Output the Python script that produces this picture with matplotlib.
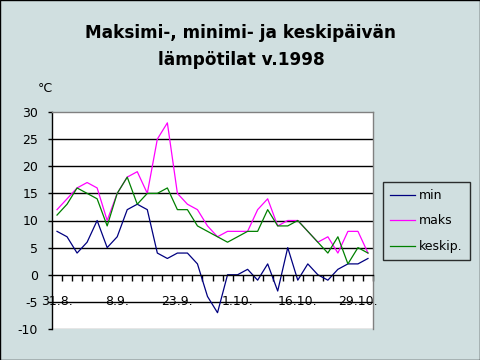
import matplotlib
matplotlib.use("Agg")
import matplotlib.pyplot as plt
from matplotlib.patches import Rectangle
import numpy as np

# Lämpötilat (°C), 32 havaintoa 31.8. - 29.10.1998
min_temp = [8, 7, 4, 6, 10, 5, 7, 12, 13, 12, 4, 3, 4, 4, 2, -4,
            -7, 0, 0, 1, -1, 2, -3, 5, -1, 2, 0, -1, 1, 2, 2, 3]
maks_temp = [12, 14, 16, 17, 16, 10, 15, 18, 19, 15, 25, 28, 15, 13, 12, 9,
             7, 8, 8, 8, 12, 14, 9, 10, 10, 8, 6, 7, 4, 8, 8, 4]
keskip_temp = [11, 13, 16, 15, 14, 9, 15, 18, 13, 15, 15, 16, 12, 12, 9, 8,
               7, 6, 7, 8, 8, 12, 9, 9, 10, 8, 6, 4, 7, 2, 5, 4]

# päivämääräotsikot (joka kuudes luokka)
label_pos = [0, 6, 12, 18, 24, 30]
label_txt = ["31.8.", "8.9.", "23.9.", "1.10.", "16.10.", "29.10."]
y_ticks = [-10, -5, 0, 5, 10, 15, 20, 25, 30]

bg = "#d0dfe0"
font = "DejaVu Sans"

fig = plt.figure(figsize=(4.8, 3.6), dpi=100, facecolor=bg)
ax = fig.add_axes([52 / 480, 1 - 329 / 360, 321 / 480, 217 / 360])
ax.set_facecolor("white")

x = np.arange(len(min_temp))
ax.plot(x, min_temp, color="#000080", lw=0.9, label="min")
ax.plot(x, maks_temp, color="#ff00ff", lw=0.9, label="maks")
ax.plot(x, keskip_temp, color="#008000", lw=0.9, label="keskip.")

ax.set_xlim(-0.5, len(min_temp) - 0.5)
ax.set_ylim(-10, 30)

# vaakaviivat
for v in [-5, 5, 10, 15, 20, 25]:
    ax.axhline(v, color="black", lw=1, zorder=0)
ax.axhline(-10, color="#808080", lw=1, zorder=0)

# reunat
ax.spines["left"].set_color("black")
ax.spines["top"].set_color("#808080")
ax.spines["right"].set_color("#808080")
ax.spines["bottom"].set_position(("data", 0))
ax.spines["bottom"].set_color("black")
for s in ax.spines.values():
    s.set_linewidth(1)

# x-akseli
ax.set_xticks(np.arange(0.5, len(min_temp), 1))
ax.set_xticklabels([])
ax.tick_params(axis="x", which="major", direction="out", length=4, width=1)
ax.set_xticks(label_pos, minor=True)
ax.set_xticklabels(label_txt, minor=True, fontsize=9, family=font)
ax.tick_params(axis="x", which="minor", length=0, pad=14.5)

# y-akseli
ax.set_yticks(y_ticks)
ax.set_yticklabels([str(v) for v in y_ticks], fontsize=9, family=font)
ax.tick_params(axis="y", direction="out", length=3, width=1, pad=7)

fig.text(0.502, 1 - 33 / 360, "Maksimi-, minimi- ja keskipäivän", ha="center",
         va="center", fontsize=12.2, fontweight="bold", family=font)
fig.text(0.502, 1 - 60 / 360, "lämpötilat v.1998", ha="center",
         va="center", fontsize=12.2, fontweight="bold", family=font)
fig.text(45 / 480, 1 - 88 / 360, "°C", ha="center", va="center", fontsize=9,
         family=font)

leg = fig.legend(loc="upper left", bbox_to_anchor=(383 / 480, 1 - 182 / 360),
                 frameon=True, fancybox=False, facecolor=bg, edgecolor="black",
                 prop={"family": font, "size": 9}, handlelength=2.0,
                 handletextpad=0.35, labelspacing=1.0, borderpad=0.55,
                 borderaxespad=0)
leg.get_frame().set_linewidth(1)

# kuvan reunus
fig.patches.append(Rectangle((0, 0), 1, 1, transform=fig.transFigure,
                             fill=False, edgecolor="black", lw=1))

fig.savefig("out.png", dpi=100, facecolor=bg)
